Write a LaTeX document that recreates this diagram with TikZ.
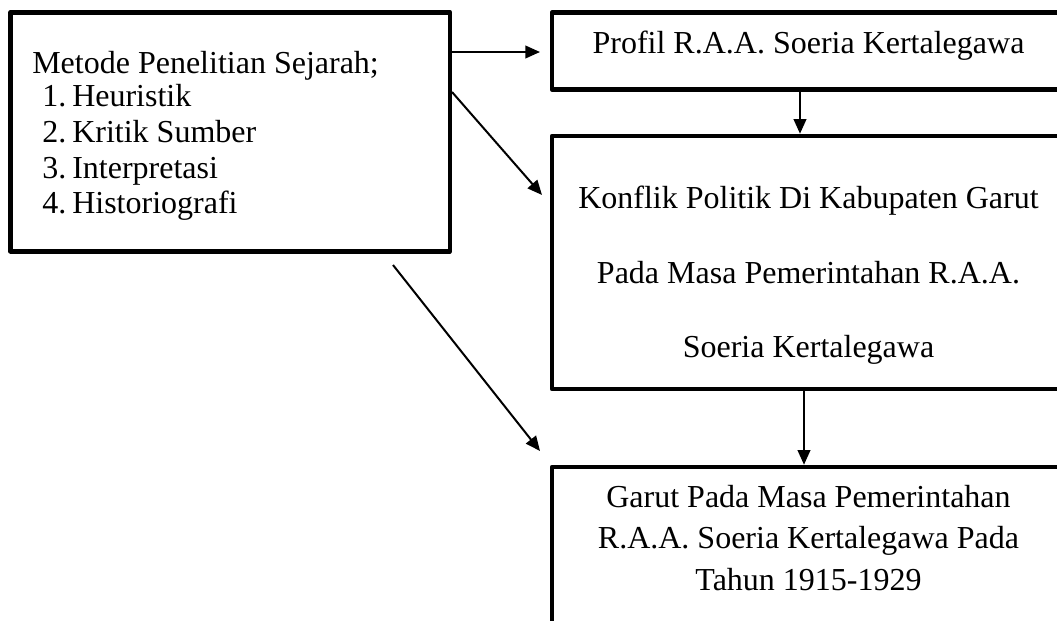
\documentclass[tikz,border=0pt]{standalone}
\usepackage{fontspec}
\setmainfont{Liberation Serif}
\usetikzlibrary{arrows.meta}
\begin{document}
\begin{tikzpicture}[x=0.75pt,y=-0.75pt,
  box/.style={draw, line width=3.4pt, line join=round, inner sep=0pt},
  txt/.style={inner sep=0pt, font=\fontsize{24pt}{28pt}\selectfont},
  arr/.style={line width=1.5pt, -{Triangle[length=11pt,width=9.5pt]}}]
\path[use as bounding box] (0,0) rectangle (1057,621);
\clip (0,0) rectangle (1057,621);
% boxes
\node[box, minimum width=329.6pt, minimum height=179.25pt] (L) at (230.25,131.75) {};
\node[box, minimum width=384.75pt, minimum height=57.75pt] (T) at (808.5,51) {};
\node[box, minimum width=384.75pt, minimum height=189.75pt] (M) at (808.5,262.5) {};
\node[box, minimum width=384.75pt, minimum height=174.75pt] (B) at (808.5,583.5) {};
% texts
\node[txt, anchor=base west] (l0) at (32,73) {Metode Penelitian Sejarah;};
\node[txt, anchor=base west] (n1) at (42,106) {1.};
\node[txt, anchor=base west] (i1) at (72,106) {Heuristik};
\node[txt, anchor=base west] (n2) at (42,142) {2.};
\node[txt, anchor=base west] (i2) at (72,142) {Kritik Sumber};
\node[txt, anchor=base west] (n3) at (42,178) {3.};
\node[txt, anchor=base west] (i3) at (72,178) {Interpretasi};
\node[txt, anchor=base west] (n4) at (42,213.5) {4.};
\node[txt, anchor=base west] (i4) at (72,213.5) {Historiografi};
\node[txt, anchor=base] (t1) at (808.5,53) {Profil R.A.A. Soeria Kertalegawa};
\node[txt, anchor=base] (m1) at (808.5,208) {Konflik Politik Di Kabupaten Garut};
\node[txt, anchor=base] (m2) at (808.5,283) {Pada Masa Pemerintahan R.A.A.};
\node[txt, anchor=base] (m3) at (808.5,357) {Soeria Kertalegawa};
\node[txt, anchor=base] (b1) at (808.5,507) {Garut Pada Masa Pemerintahan};
\node[txt, anchor=base] (b2) at (808.5,548.5) {R.A.A. Soeria Kertalegawa Pada};
\node[txt, anchor=base] (b3) at (808.5,590) {Tahun 1915-1929};
% connector ends
\coordinate (h1e) at (540,52);
\coordinate (d1s) at (452,92);
\coordinate (d1e) at (542,195);
\coordinate (d2s) at (393,265);
\coordinate (d2e) at (540,451);
% connectors
\draw[arr] (L.east |- h1e) -- (h1e);
\draw[arr] (d1s) -- (d1e);
\draw[arr] (d2s) -- (d2e);
\draw[arr] (T.south -| 800,0) -- (M.north -| 800,0);
\draw[arr] (M.south -| 804,0) -- (B.north -| 804,0);
\end{tikzpicture}
\end{document}
